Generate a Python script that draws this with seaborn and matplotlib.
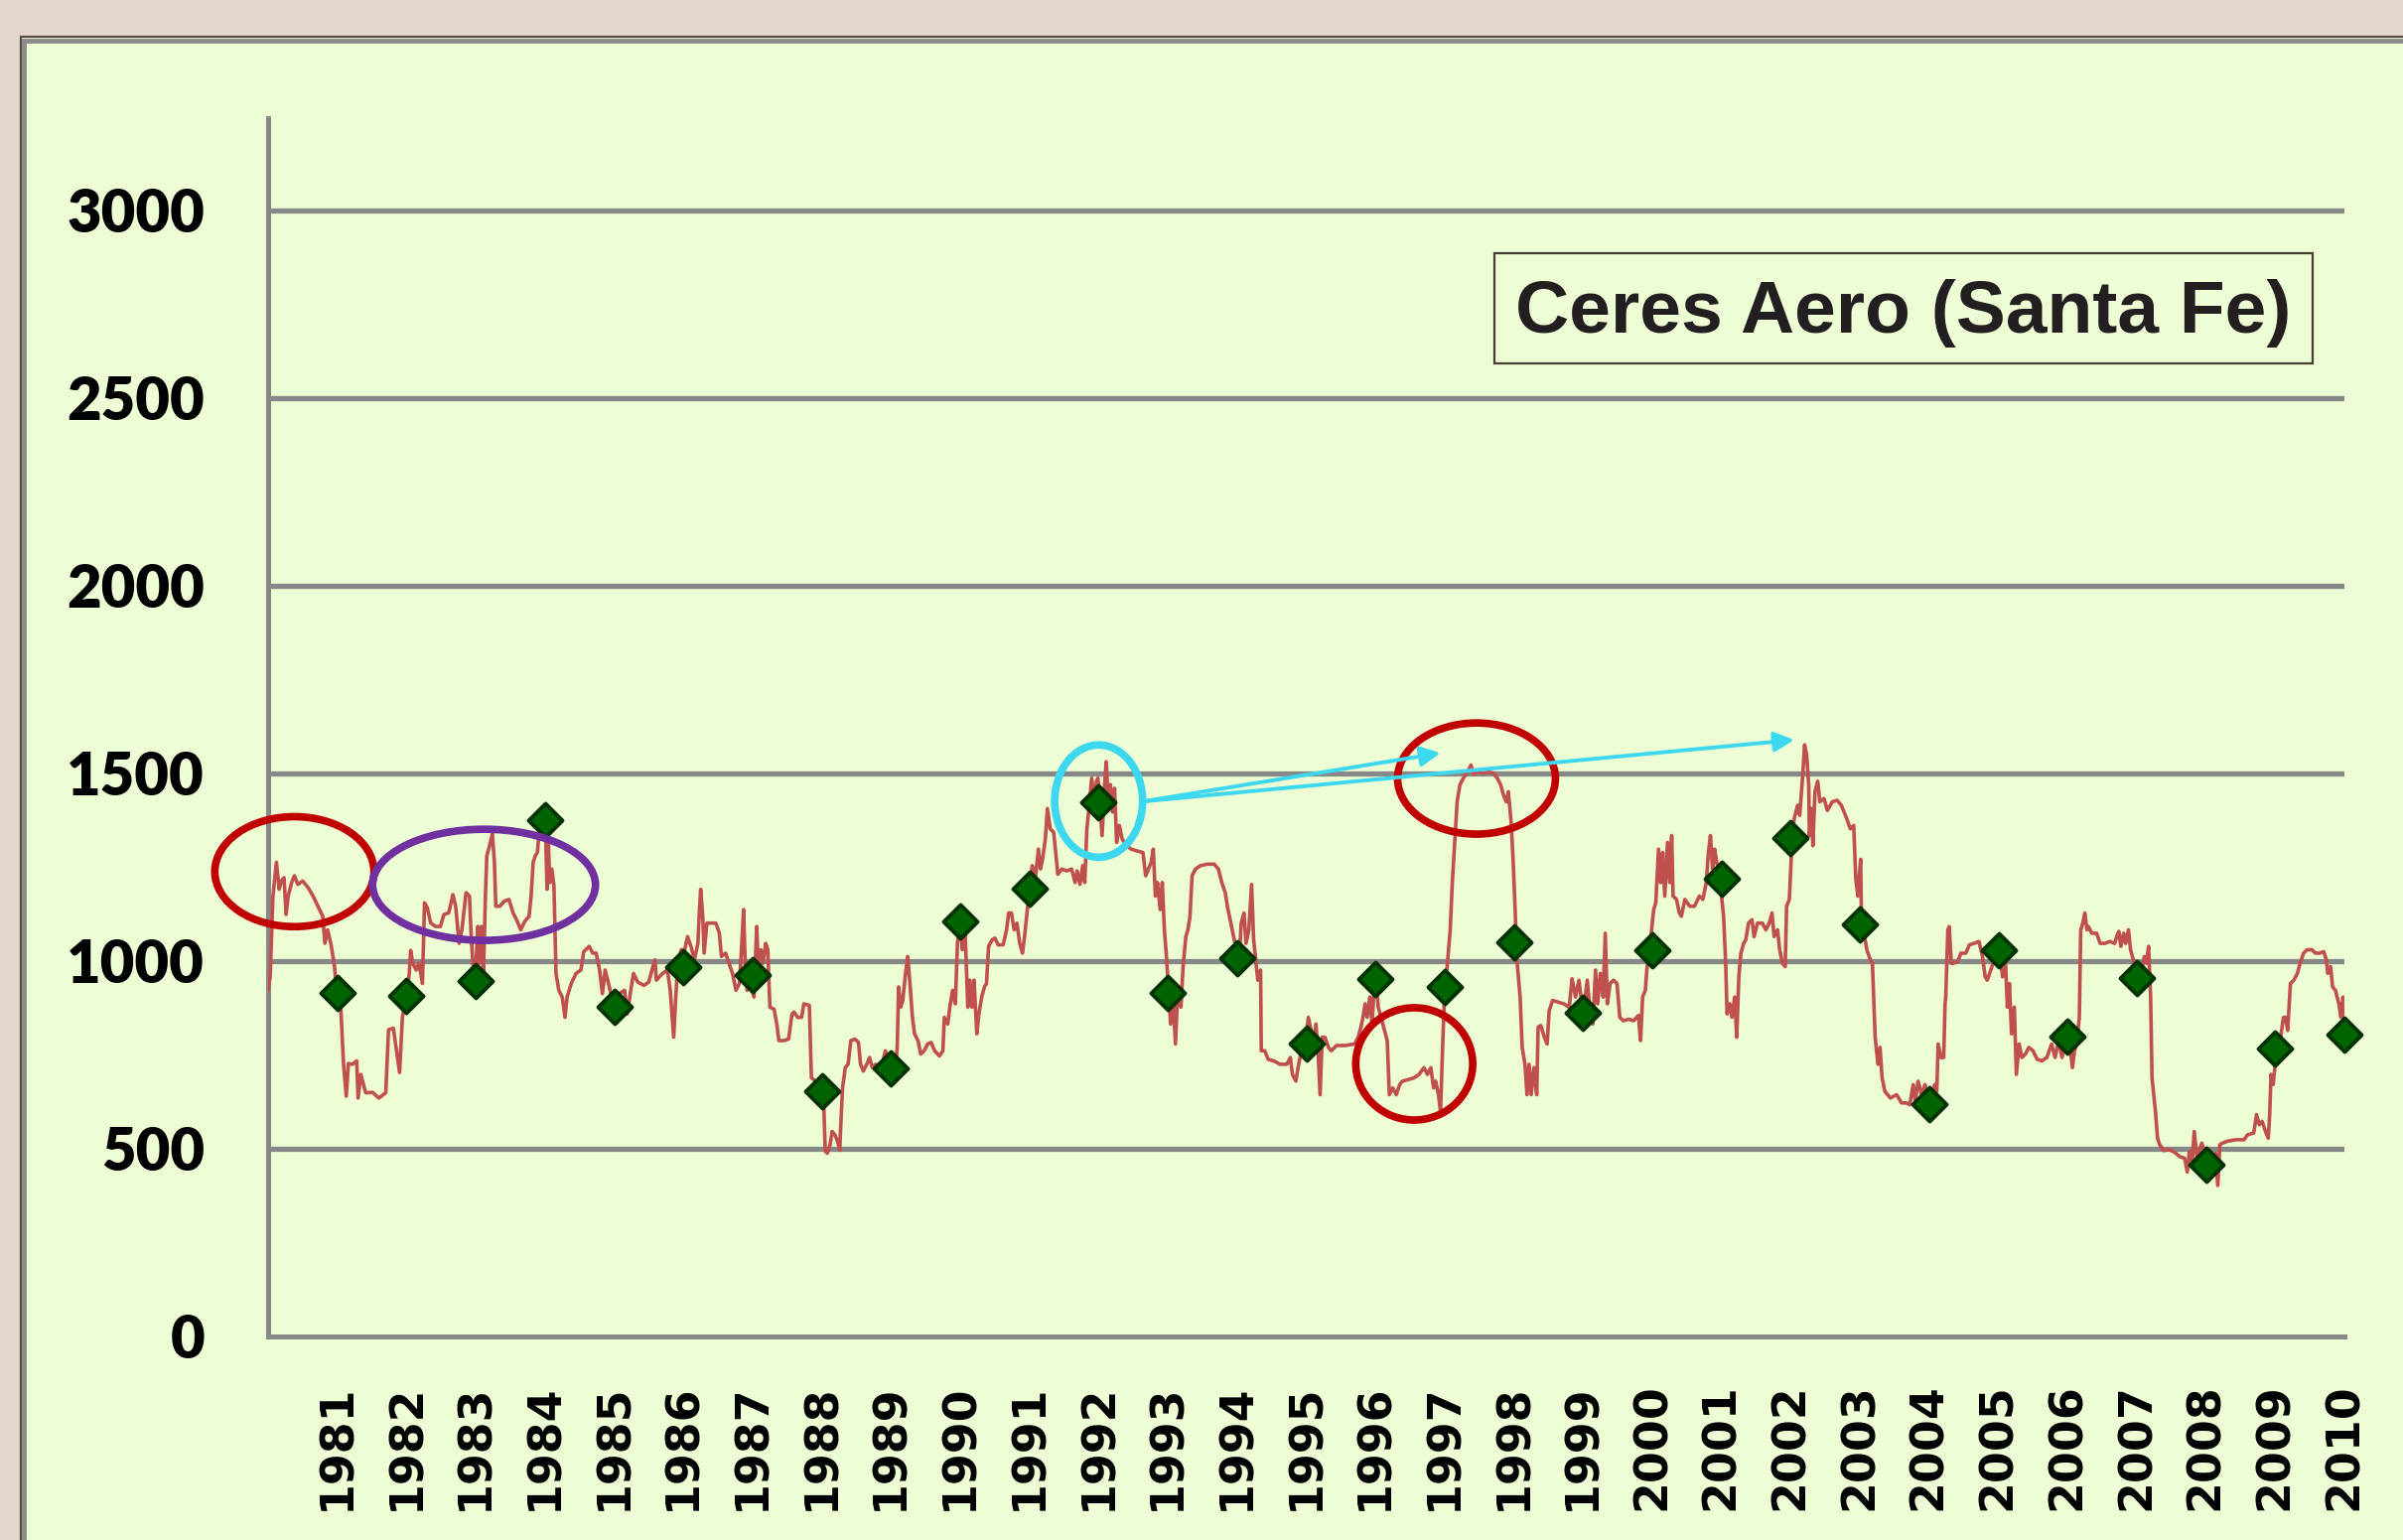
import numpy as np
import pandas as pd
import matplotlib
matplotlib.use("Agg")
import matplotlib.pyplot as plt
from matplotlib.patches import Ellipse, Rectangle
import seaborn as sns

# ---------------- data ----------------
seg_1980s = [(1980.00, 922), (1980.03, 958), (1980.07, 1173), (1980.12, 1263), (1980.16, 1191), (1980.19, 1213),
             (1980.23, 1222), (1980.26, 1124), (1980.29, 1173), (1980.34, 1209), (1980.38, 1227), (1980.43, 1204),
             (1980.50, 1213), (1980.58, 1195), (1980.65, 1173), (1980.72, 1146), (1980.79, 1119), (1980.82, 1047),
             (1980.86, 1083), (1980.91, 1043), (1980.96, 985), (1980.99, 913), (1981.05, 877), (1981.09, 725),
             (1981.13, 640), (1981.16, 727), (1981.22, 725), (1981.28, 734), (1981.30, 635), (1981.34, 698),
             (1981.41, 649), (1981.51, 650), (1981.60, 635), (1981.70, 649), (1981.74, 817), (1981.81, 821),
             (1981.87, 743), (1981.90, 703), (1981.94, 850), (1982.00, 904), (1982.04, 967), (1982.06, 1028),
             (1982.09, 994), (1982.14, 976), (1982.18, 994), (1982.23, 940), (1982.26, 1155), (1982.30, 1142),
             (1982.35, 1101), (1982.42, 1092), (1982.49, 1092), (1982.54, 1124), (1982.61, 1128), (1982.67, 1177),
             (1982.71, 1146), (1982.76, 1047), (1982.80, 1083), (1982.86, 1182), (1982.91, 1173), (1982.93, 1083),
             (1982.96, 989), (1983.00, 980), (1983.03, 1092), (1983.05, 994), (1983.08, 1092), (1983.11, 958),
             (1983.14, 1173), (1983.16, 1280), (1983.20, 1307), (1983.24, 1339), (1983.27, 1263), (1983.29, 1146),
             (1983.35, 1146), (1983.41, 1159), (1983.48, 1164), (1983.54, 1128), (1983.60, 1106), (1983.65, 1083),
             (1983.71, 1106), (1983.77, 1119), (1983.80, 1173), (1983.83, 1263), (1983.86, 1280), (1983.89, 1289),
             (1983.92, 1348), (1983.95, 1334), (1983.98, 1366), (1984.01, 1343), (1984.03, 1191), (1984.05, 1316),
             (1984.07, 1209), (1984.10, 1245), (1984.13, 1200), (1984.16, 967), (1984.20, 922), (1984.25, 904),
             (1984.29, 850), (1984.32, 904), (1984.38, 940), (1984.45, 967), (1984.52, 976), (1984.56, 1025),
             (1984.64, 1039), (1984.69, 1021), (1984.74, 1021), (1984.79, 976), (1984.83, 913), (1984.87, 976),
             (1984.93, 931), (1985.00, 877), (1985.07, 913), (1985.15, 922), (1985.19, 859), (1985.24, 922),
             (1985.28, 967), (1985.34, 944), (1985.43, 935), (1985.50, 944), (1985.56, 985), (1985.59, 1003),
             (1985.61, 949), (1985.70, 967), (1985.77, 976), (1985.81, 922), (1985.86, 797), (1985.89, 904),
             (1985.92, 994), (1985.97, 1030)]

seg_late80s = [(1986.02, 1030), (1986.06, 1065), (1986.11, 1039), (1986.16, 1003), (1986.21, 1047), (1986.23, 1128),
               (1986.25, 1191), (1986.28, 1119), (1986.30, 1021), (1986.34, 1101), (1986.40, 1101), (1986.47, 1101),
               (1986.52, 1074), (1986.55, 1012), (1986.61, 1021), (1986.66, 994), (1986.71, 967), (1986.76, 922),
               (1986.81, 940), (1986.84, 1030), (1986.87, 1137), (1986.89, 1012), (1986.92, 922), (1986.97, 940),
               (1987.02, 904), (1987.06, 1092), (1987.08, 994), (1987.12, 1030), (1987.15, 994), (1987.19, 1047),
               (1987.22, 1030), (1987.25, 877), (1987.31, 872), (1987.35, 832), (1987.38, 788), (1987.45, 788),
               (1987.52, 792), (1987.57, 859), (1987.60, 864), (1987.65, 850), (1987.71, 850), (1987.74, 886),
               (1987.82, 882), (1987.85, 689), (1987.91, 680), (1987.99, 649), (1988.03, 608), (1988.05, 493),
               (1988.08, 488), (1988.12, 511), (1988.15, 546), (1988.19, 537), (1988.23, 519), (1988.26, 496),
               (1988.27, 546), (1988.30, 662), (1988.34, 716), (1988.38, 725), (1988.42, 788), (1988.48, 792),
               (1988.53, 783), (1988.56, 725), (1988.60, 707), (1988.65, 725), (1988.69, 743), (1988.73, 716),
               (1988.78, 725), (1988.85, 711), (1988.92, 761), (1988.99, 711), (1989.05, 680), (1989.09, 770),
               (1989.11, 931), (1989.14, 877), (1989.17, 895), (1989.21, 967), (1989.24, 1012), (1989.27, 949),
               (1989.31, 850), (1989.34, 806), (1989.39, 788), (1989.43, 752), (1989.48, 761), (1989.53, 779),
               (1989.58, 783), (1989.63, 761), (1989.70, 747), (1989.75, 761), (1989.77, 850), (1989.82, 832),
               (1989.85, 877), (1989.89, 922), (1989.93, 886), (1989.96, 1047), (1990.00, 1101), (1990.03, 1030),
               (1990.07, 1083), (1990.11, 877), (1990.14, 949), (1990.17, 877), (1990.20, 949), (1990.24, 806),
               (1990.27, 859), (1990.31, 904), (1990.35, 931), (1990.38, 940), (1990.41, 1039), (1990.46, 1056),
               (1990.50, 1061), (1990.55, 1043), (1990.62, 1043), (1990.67, 1083), (1990.70, 1128), (1990.74, 1128),
               (1990.78, 1083), (1990.82, 1101), (1990.86, 1047), (1990.90, 1021), (1990.93, 1065), (1990.97, 1137),
               (1991.00, 1186), (1991.04, 1254), (1991.09, 1227), (1991.13, 1298), (1991.16, 1245), (1991.19, 1271),
               (1991.23, 1325), (1991.26, 1406), (1991.30, 1352), (1991.35, 1343), (1991.38, 1289), (1991.41, 1231),
               (1991.47, 1245), (1991.54, 1240), (1991.61, 1245), (1991.66, 1209), (1991.69, 1240), (1991.73, 1204),
               (1991.77, 1254), (1991.80, 1209), (1991.83, 1352), (1991.86, 1406), (1991.90, 1487), (1991.94, 1424),
               (1991.97, 1479)]

seg_1990s = [(1991.99, 1487), (1992.02, 1415), (1992.05, 1334), (1992.09, 1479), (1992.11, 1531), (1992.14, 1415),
             (1992.17, 1470), (1992.20, 1397), (1992.23, 1460), (1992.26, 1316), (1992.30, 1361), (1992.34, 1325),
             (1992.40, 1307), (1992.47, 1298), (1992.54, 1294), (1992.64, 1289), (1992.68, 1227), (1992.72, 1245),
             (1992.76, 1263), (1992.79, 1298), (1992.82, 1173), (1992.85, 1209), (1992.89, 1137), (1992.92, 1209),
             (1992.95, 1083), (1992.98, 1012), (1993.01, 922), (1993.04, 832), (1993.08, 886), (1993.11, 779),
             (1993.14, 904), (1993.19, 877), (1993.22, 985), (1993.26, 1065), (1993.29, 1083), (1993.32, 1119),
             (1993.35, 1227), (1993.40, 1245), (1993.47, 1254), (1993.57, 1258), (1993.67, 1258), (1993.73, 1245),
             (1993.78, 1209), (1993.83, 1182), (1993.86, 1146), (1993.91, 1101), (1993.95, 1065), (1993.99, 1030),
             (1994.03, 994), (1994.06, 1101), (1994.10, 1128), (1994.13, 1047), (1994.17, 1083), (1994.21, 1204),
             (1994.24, 1056), (1994.27, 1003), (1994.30, 949), (1994.34, 976), (1994.35, 761), (1994.40, 761),
             (1994.45, 738), (1994.53, 734), (1994.62, 725), (1994.72, 725), (1994.77, 743), (1994.80, 698),
             (1994.85, 680), (1994.89, 725), (1994.94, 770), (1994.99, 779), (1995.03, 850), (1995.07, 815),
             (1995.10, 770), (1995.14, 832), (1995.17, 761), (1995.20, 644), (1995.23, 797), (1995.27, 797),
             (1995.32, 770), (1995.36, 761), (1995.44, 775), (1995.56, 775), (1995.70, 779), (1995.75, 797),
             (1995.79, 824), (1995.82, 850), (1995.85, 886), (1995.88, 850), (1995.92, 904), (1995.95, 832),
             (1995.98, 922), (1996.02, 922), (1996.04, 877), (1996.08, 850), (1996.13, 815), (1996.17, 788),
             (1996.20, 644), (1996.25, 662), (1996.30, 644), (1996.35, 671), (1996.39, 680), (1996.47, 684),
             (1996.56, 689), (1996.63, 698), (1996.70, 716), (1996.75, 698), (1996.80, 716), (1996.84, 662),
             (1996.87, 680), (1996.91, 644), (1996.94, 599), (1996.97, 770), (1997.00, 922), (1997.04, 994),
             (1997.08, 1083), (1997.11, 1209), (1997.15, 1334), (1997.18, 1424), (1997.22, 1469), (1997.27, 1487),
             (1997.33, 1504), (1997.38, 1522), (1997.42, 1497), (1997.47, 1504), (1997.54, 1500), (1997.64, 1503),
             (1997.71, 1500), (1997.76, 1487), (1997.81, 1469), (1997.85, 1442), (1997.89, 1424), (1997.92, 1451),
             (1997.96, 1370)]

seg_2000s = [(1997.99, 1263), (1998.02, 1128), (1998.04, 1012), (1998.09, 904), (1998.12, 770), (1998.16, 725),
             (1998.19, 644), (1998.22, 725), (1998.25, 644), (1998.29, 716), (1998.33, 644), (1998.35, 824),
             (1998.39, 828), (1998.44, 797), (1998.48, 779), (1998.51, 868), (1998.56, 895), (1998.63, 891),
             (1998.72, 886), (1998.80, 877), (1998.84, 953), (1998.89, 904), (1998.94, 949), (1999.00, 859),
             (1999.06, 949), (1999.10, 868), (1999.14, 832), (1999.18, 976), (1999.21, 886), (1999.25, 967),
             (1999.29, 904), (1999.32, 1074), (1999.35, 886), (1999.39, 940), (1999.44, 949), (1999.49, 940),
             (1999.53, 850), (1999.58, 841), (1999.66, 845), (1999.73, 841), (1999.80, 855), (1999.83, 788),
             (1999.86, 904), (1999.90, 922), (1999.92, 976), (1999.96, 1030), (2000.02, 1137), (2000.05, 1155),
             (2000.09, 1298), (2000.12, 1209), (2000.15, 1289), (2000.18, 1173), (2000.22, 1316), (2000.25, 1209),
             (2000.28, 1334), (2000.30, 1173), (2000.35, 1164), (2000.39, 1128), (2000.42, 1119), (2000.47, 1164),
             (2000.54, 1146), (2000.61, 1146), (2000.68, 1173), (2000.73, 1164), (2000.78, 1209), (2000.81, 1289),
             (2000.84, 1334), (2000.87, 1245), (2000.90, 1298), (2000.93, 1263), (2000.97, 1227), (2001.03, 1119),
             (2001.06, 994), (2001.08, 859), (2001.12, 886), (2001.15, 850), (2001.19, 904), (2001.22, 797),
             (2001.25, 958), (2001.28, 1021), (2001.32, 1047), (2001.35, 1056), (2001.39, 1101), (2001.44, 1110),
             (2001.47, 1065), (2001.52, 1101), (2001.59, 1101), (2001.64, 1083), (2001.69, 1101), (2001.73, 1128),
             (2001.76, 1065), (2001.81, 1083), (2001.84, 1030), (2001.88, 994), (2001.92, 985), (2001.94, 1146),
             (2001.98, 1164), (2002.02, 1325), (2002.05, 1379), (2002.10, 1415), (2002.13, 1388), (2002.17, 1487),
             (2002.20, 1576), (2002.23, 1549), (2002.26, 1469), (2002.27, 1334), (2002.30, 1406), (2002.32, 1307),
             (2002.35, 1451), (2002.39, 1479), (2002.42, 1424), (2002.48, 1433), (2002.53, 1401), (2002.60, 1424),
             (2002.67, 1428), (2002.73, 1415), (2002.77, 1397), (2002.81, 1379), (2002.86, 1352), (2002.91, 1361),
             (2002.94, 1218), (2002.97, 1173), (2003.01, 1271), (2003.02, 1137), (2003.05, 1083), (2003.10, 1030),
             (2003.15, 1003), (2003.18, 994), (2003.22, 797), (2003.26, 725), (2003.29, 770), (2003.32, 689),
             (2003.36, 653), (2003.44, 635), (2003.53, 644), (2003.60, 622), (2003.67, 622), (2003.72, 617),
             (2003.77, 671), (2003.80, 626), (2003.84, 680), (2003.89, 644), (2003.94, 671), (2003.99, 635)]

seg_late2000s = [(2004.03, 617), (2004.08, 671), (2004.11, 653), (2004.13, 779), (2004.17, 743), (2004.21, 743),
                 (2004.23, 886), (2004.24, 904), (2004.27, 1083), (2004.29, 1092), (2004.32, 994), (2004.35, 994),
                 (2004.41, 998), (2004.46, 1021), (2004.53, 1021), (2004.58, 1043), (2004.65, 1047), (2004.72, 1052),
                 (2004.77, 1012), (2004.81, 958), (2004.84, 949), (2004.89, 976), (2004.94, 1003), (2005.02, 1025),
                 (2005.06, 958), (2005.10, 1012), (2005.13, 877), (2005.16, 940), (2005.19, 806), (2005.23, 877),
                 (2005.26, 698), (2005.30, 779), (2005.34, 743), (2005.39, 752), (2005.44, 770), (2005.50, 761),
                 (2005.56, 738), (2005.63, 734), (2005.70, 743), (2005.77, 779), (2005.82, 743), (2005.87, 788),
                 (2005.92, 743), (2005.97, 779), (2006.02, 797), (2006.07, 716), (2006.10, 761), (2006.13, 779),
                 (2006.17, 850), (2006.19, 1083), (2006.22, 1101), (2006.25, 1128), (2006.28, 1083), (2006.30, 1092),
                 (2006.35, 1074), (2006.42, 1074), (2006.47, 1047), (2006.54, 1047), (2006.61, 1052), (2006.68, 1047),
                 (2006.71, 1065), (2006.74, 1079), (2006.77, 1039), (2006.81, 1074), (2006.84, 1047), (2006.88, 1083),
                 (2006.91, 1030), (2006.95, 1003), (2007.01, 958), (2007.07, 976), (2007.11, 1012), (2007.14, 994),
                 (2007.17, 1039), (2007.20, 904), (2007.22, 689), (2007.25, 635), (2007.27, 599), (2007.30, 528),
                 (2007.33, 511), (2007.39, 495), (2007.47, 498), (2007.55, 490), (2007.62, 479), (2007.69, 475),
                 (2007.73, 438), (2007.76, 493), (2007.80, 466), (2007.83, 546), (2007.87, 475), (2007.91, 500),
                 (2007.94, 515), (2007.98, 493), (2008.02, 452), (2008.07, 475), (2008.11, 484), (2008.14, 488),
                 (2008.17, 402), (2008.20, 511), (2008.24, 515), (2008.31, 520), (2008.43, 524), (2008.55, 524),
                 (2008.60, 537), (2008.69, 542), (2008.73, 591), (2008.77, 564), (2008.81, 573), (2008.86, 546),
                 (2008.90, 528), (2008.92, 591), (2008.94, 698), (2008.97, 671), (2009.02, 761), (2009.07, 788),
                 (2009.12, 850), (2009.15, 850), (2009.18, 815), (2009.22, 940), (2009.27, 949), (2009.32, 967),
                 (2009.36, 994), (2009.41, 1021), (2009.46, 1030), (2009.53, 1030), (2009.58, 1021), (2009.64, 1021),
                 (2009.70, 1025), (2009.74, 1003), (2009.76, 967), (2009.80, 985), (2009.83, 931), (2009.87, 922),
                 (2009.92, 886), (2009.95, 850), (2009.98, 904), (2010.00, 830)]

years = list(range(1981, 2011))
annual_values = [914, 906, 947, 1376, 878, 984, 963, 653, 714, 1106,
                 1192, 1424, 914, 1008, 780, 951, 931, 1049, 861, 1029,
                 1220, 1327, 1098, 620, 1029, 800, 955, 457, 767, 804]
year_labels = [str(y) for y in years]
y_ticks = [0, 500, 1000, 1500, 2000, 2500, 3000]
title_text = "Ceres Aero (Santa Fe)"

# highlighted regions: (center year, center value, width in years, height in value, colour)
highlights = [(1980.38, 1238, 2.30, 293, "#C00000"),
              (1983.12, 1203, 3.22, 296, "#7030A0"),
              (1992.00, 1426, 1.27, 299, "#3DD8EF"),
              (1997.46, 1486, 2.28, 296, "#C00000"),
              (1996.56, 726, 1.69, 299, "#C00000")]
arrow_start = (1992.64, 1425)
arrow_ends = [(1996.94, 1554), (2002.05, 1589)]

# ---------------- build ----------------
series = pd.DataFrame(seg_1980s + seg_late80s + seg_1990s + seg_2000s + seg_late2000s,
                      columns=["year", "level"])
annual = pd.DataFrame({"year": years, "level": annual_values})

W, H = 2420, 1551
fig = plt.figure(figsize=(W / 100, H / 100), dpi=100)
fig.patch.set_facecolor("#E4D6CD")

green = "#EDFED5"
# outer panel
fig.patches.append(Rectangle((21 / W, -0.05), 1.1, (H - 37) / H + 0.05, transform=fig.transFigure,
                             facecolor=green, edgecolor="#5A4A40", linewidth=1.6, zorder=-3))
fig.patches.append(Rectangle((24 / W, -0.05), 1.1, (H - 41) / H + 0.05, transform=fig.transFigure,
                             facecolor=green, edgecolor="#8C8C8C", linewidth=3.5, zorder=-2))
# title box
bx0, bx1, by0, by1 = 1505 / W, 2329 / W, 1 - 366 / H, 1 - 255 / H
fig.patches.append(Rectangle((bx0, by0), bx1 - bx0, by1 - by0, transform=fig.transFigure,
                             facecolor=green, edgecolor="#4A3C32", linewidth=1.6, zorder=-1))
fig.text((bx0 + bx1) / 2, (by0 + by1) / 2 - 0.003, title_text, fontfamily=["Liberation Sans", "DejaVu Sans"],
         fontweight="bold", fontsize=54, color="#231F20", ha="center", va="center", zorder=-1)

ax = fig.add_axes([270 / W, 1 - 1346 / H, (2361 - 270) / W, (1346 - 119) / H])
ax.set_zorder(2)
ax.set_facecolor("none")

sns.lineplot(data=series, x="year", y="level", ax=ax, color="#C0504D", linewidth=2.6,
             estimator=None, sort=False, zorder=3)
sns.scatterplot(data=annual, x="year", y="level", ax=ax, marker="D", s=300,
                color="#006400", edgecolor="#003300", linewidth=2.8, zorder=5, clip_on=False)

ax.set_xlim(1980, 2010)
ax.set_ylim(0, 3245)
ax.set_xlabel("")
ax.set_ylabel("")

grid_col = "#888888"
for yv in y_ticks[1:]:
    ax.axhline(yv, color=grid_col, linewidth=3.8, zorder=1)
for side in ["top", "right"]:
    ax.spines[side].set_visible(False)
for side in ["left", "bottom"]:
    ax.spines[side].set_color(grid_col)
    ax.spines[side].set_linewidth(3.6)

ax.set_yticks(y_ticks)
ax.set_yticklabels([str(v) for v in y_ticks], fontfamily=["Lato", "DejaVu Sans"],
                   fontweight="heavy", fontsize=43)
ax.set_xticks(years)
ax.set_xticklabels(year_labels, rotation=90, fontfamily="DejaVu Sans", fontweight="bold",
                   fontsize=33, va="top", ha="center")
ax.tick_params(axis="y", length=0, pad=46)
ax.tick_params(axis="x", length=0, pad=34)

for cx, cy, w, h, col in highlights:
    ax.add_patch(Ellipse((cx, cy), w, h, fill=False, edgecolor=col, linewidth=5.5,
                         zorder=6, clip_on=False))
for end in arrow_ends:
    ax.annotate("", xy=end, xytext=arrow_start,
                arrowprops=dict(arrowstyle="-|>", color="#3DD8EF", lw=2.8, mutation_scale=30,
                                shrinkA=0, shrinkB=0), zorder=6)

fig.savefig("out.png", dpi=100, facecolor=fig.get_facecolor())
